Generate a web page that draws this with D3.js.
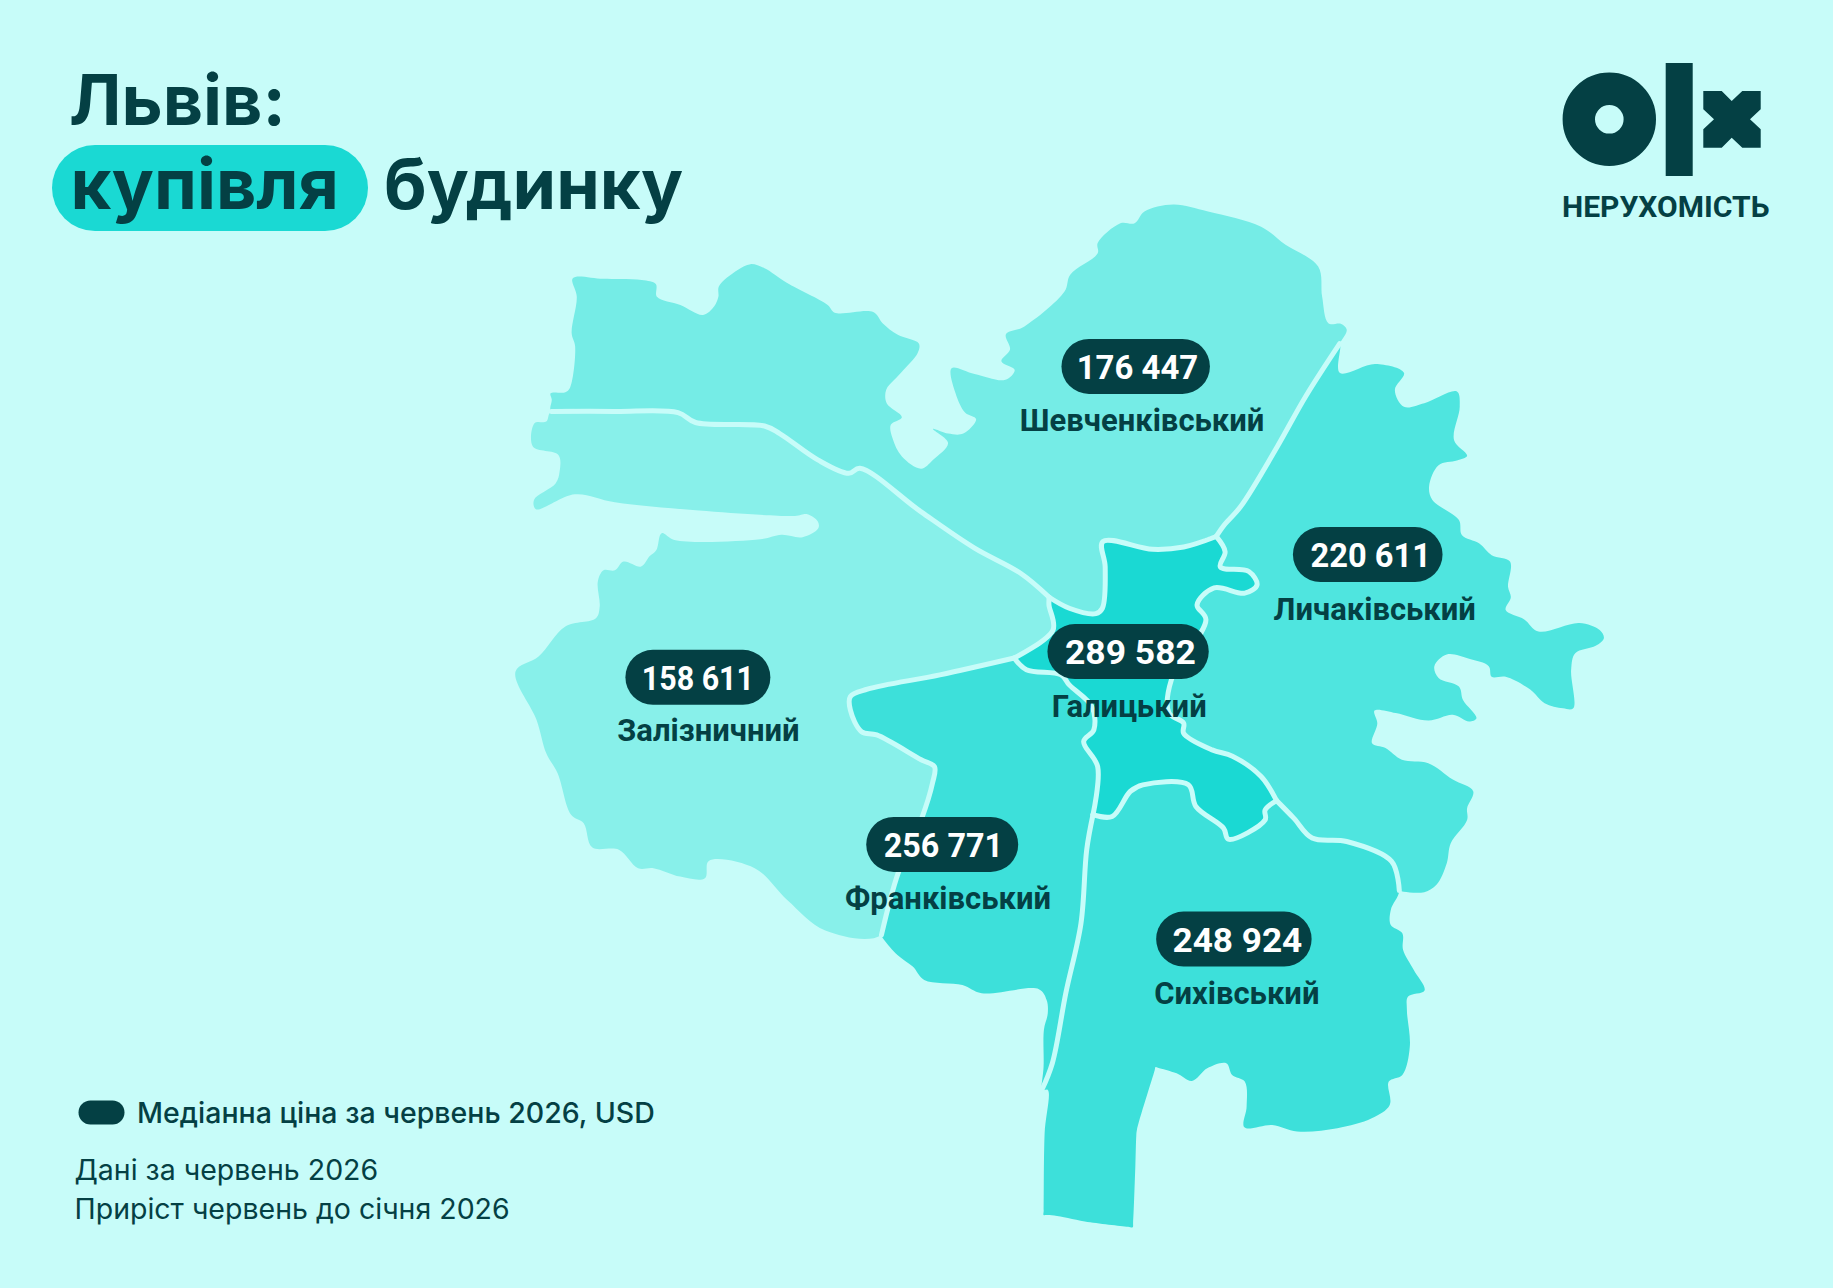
<!DOCTYPE html>
<html lang="uk">
<head>
<meta charset="utf-8">
<title>Львів: купівля будинку</title>
<script src="https://cdn.jsdelivr.net/npm/d3@7"></script>
<style>
  html, body { margin: 0; padding: 0; background: #c7fcf9; }
  svg { display: block; font-family: Roboto, sans-serif; }
</style>
</head>
<body>
<div id="map"></div>
<script>
// districts and median price, USD
const districts = ["Шевченківський", "Личаківський", "Галицький", "Залізничний", "Франківський", "Сихівський"];
const prices = [176447, 220611, 289582, 158611, 256771, 248924];
const priceLabels = ["176 447", "220 611", "289 582", "158 611", "256 771", "248 924"];

// where each label sits, in map units
const pillCentres = [[971.5, 313.5], [1170, 474.5], [965, 557.5], [597, 579.5], [806, 722.5], [1055.5, 803.5]];
const pillWidths = [127, 128, 138, 124, 130, 133];
const priceCentres = [[973, 314], [1172.5, 475], [967, 558], [597, 580], [807, 723], [1058.5, 804]];
const priceWidths = [104, 103, 112, 96, 102, 111];
const nameCentres = [[977, 359], [1176, 521], [966, 604], [606, 625], [811, 768], [1058, 850]];

// shared borders between districts, in map units
const bZalShev = [[471.5,352],[526,352],[580,353],[595,361.5],[654,364.5],[667,371],[699.6,393.5],[726,405],[735.6,400.6],[788,438],[833.7,469],[873,490.5],[897.5,511]];
const bShevGal = [[897.5,511],[914.7,520.4],[937.4,525],[943,520.4],[945.4,485],[943.4,463.4],[986,470],[1012.5,468],[1040.4,459]];
const bShevLych = [[1040.4,459],[1047.4,449],[1061.3,433.4],[1092.7,382],[1117,339],[1146,294]];
const bLychGal = [[1040.4,459],[1048,472],[1043.9,485],[1068.3,489],[1075.3,500.4],[1064.8,507.5],[1038.6,503],[1024,517.5],[1031.6,530.3],[1002,581.7],[1000,610],[1012.5,618.7],[1012.5,627.3],[1036.9,641.6],[1054.3,647],[1078.8,664.4],[1092,685]];
const bLychSykh = [[1092,685],[1106.7,700],[1122.4,717],[1152,720],[1190.4,737],[1197,762]];
const bGalSykh = [[1092,685],[1082.2,693],[1082.2,701.5],[1050.8,718],[1046.7,708.6],[1023,690],[1016.6,671.5],[977.6,671.5],[967,677],[951.4,698.6],[935,697]];
const bFrSykh = [[935,697],[929.6,727],[924.7,790],[911.7,849.8],[900.2,909.7],[891,933]];
const bGalFr = [[935,697],[939,656],[927,634.4],[935.7,624.5],[934,604.5],[914.7,586],[907.7,577.4],[878,573],[867.6,563]];
const bZalGal = [[897.5,511],[897.3,517.5],[900.8,539],[867.6,563]];
const bZalFr = [[867.6,563],[804,577.4],[742,589.7],[727.4,596],[727.4,607.4],[737,626],[750,628.8],[788,650],[799.4,655.9],[797.7,670],[788,701.5],[768.3,747],[754,800]];

// outer edges
const outerShev = [[472,342],[471,336.5],[483.6,335.6],[487.5,332],[492,296.5],[489,285],[493.4,254],[490,238],[516,238.6],[549,239.5],[561,243],[562,254],[582,261],[601.4,269.5],[611,262],[614.5,254],[615,245],[631,231],[642,226],[654,229.5],[673,242],[708,261],[714,267.5],[747,267],[755,276.5],[768,286.5],[786,294],[785,302],[771.5,318],[765,325],[758,333.6],[758.5,345],[771.5,357],[762,363.5],[763.5,375],[771.5,390.6],[788,401],[798,393.5],[811,379],[798,367],[811,371],[824,371],[835,358.7],[825.5,353],[817.4,336.5],[814,315],[833.7,320],[860,325],[868,316.5],[856.6,309],[864,299],[860.5,286],[876,279.5],[910.6,249.5],[915.5,235],[939,216.7],[939,208],[958.4,191],[970.6,191],[979,181],[1003.7,175],[1033.4,181],[1078.8,194],[1099.7,209.5],[1127.6,228],[1131,254],[1136.3,276.5],[1147,277],[1152,282]];
const outerLych = [[1146,319],[1176.5,311.4],[1201,319],[1193.2,333.6],[1201,348],[1218.4,345],[1246.3,335],[1248.7,348],[1243.8,376.4],[1255,390],[1246.3,394],[1230.6,398],[1222.5,416],[1225.3,427.7],[1248,445],[1250.5,457.7],[1265.5,465],[1276,475],[1291.7,480.5],[1290,502],[1292.4,511],[1288,522],[1303.9,530],[1316,540.3],[1351,533],[1368.4,539],[1372,546],[1365,552.6],[1347.5,559],[1344,573],[1345.8,606],[1337,606],[1321.3,601.6],[1309,590],[1288,579],[1276,579],[1273.5,570],[1256.7,563.7],[1237.6,560],[1227,570],[1230.6,580],[1248,587.4],[1251.5,599],[1263,614.5],[1256.7,617.3],[1242.8,611.6],[1222,616.5],[1194,610],[1175.8,608],[1178.2,619],[1173.7,636],[1185.2,640],[1199.2,650],[1221.8,653],[1242.8,667],[1260.2,677],[1255,691.5],[1255,701.5],[1241,721.4],[1237.6,738.5],[1228.8,757],[1218.4,763.3],[1200.9,763]];
const outerSykh = [[1189.7,778.5],[1189.7,791.4],[1199.6,798.5],[1200.2,812.7],[1209.4,830],[1218.6,847.5],[1204.5,852.7],[1203.5,864],[1206,895.4],[1199.6,919.7],[1188,925.4],[1188.8,945.4],[1173.4,956.8],[1144,965.3],[1109.6,968],[1088.3,962.5],[1064.5,964.5],[1066.4,946.8],[1064.8,925.4],[1054,919.7],[1049,909.7],[1032.7,914],[1019.6,924.8],[1006.5,918.3],[990.5,913.5],[988.5,913],[987.7,916],[972.5,967],[972,972],[971.2,998],[969.3,1046],[968.9,1050],[965,1049.6],[928,1045],[901.8,1040],[895,1039.6],[892.7,1039.5],[892.8,1036],[893.6,969.6],[896.3,932.5]];
const outerFr = [[892.7,912.6],[893,881],[896.3,867],[895.3,855.5],[888.7,846.4],[839.7,849.8],[823.3,842.7],[790.6,838.4],[780.8,827],[767.7,817],[756.2,804]];
const outerZal = [[706,796.2],[673.4,770],[645.6,742.8],[606.3,736.6],[603,751.4],[581.8,750],[558.9,742.8],[545.8,742.8],[529.4,727],[506.5,725],[499.3,704.3],[488.5,697],[477,661.6],[467.3,644.5],[459,616],[441,574.6],[460.7,561.7],[483.6,536],[509.8,529],[513,519],[511.4,497.6],[516.3,488],[526,488],[533.4,480.5],[548.4,484.7],[555.6,476],[561.5,470.5],[566,456.2],[576.9,462],[650.5,461.4],[668.5,457.6],[686.5,459.6],[700,452],[699.6,446.2],[690.7,440],[680,441.4],[598,436.8],[526,429.7],[491.8,422.9],[458.4,435.7],[456.8,427.7],[475.4,413.5],[478.7,403.5],[477.7,389.2],[455.8,382],[457.4,362],[467.3,360.7]];

const rev = a => a.slice().reverse();
const ring = (...parts) => d3.merge(parts).filter((p, i, a) => i === 0 || p[0] !== a[i - 1][0] || p[1] !== a[i - 1][1]);

// same order as districts
const outlines = [
  ring(outerShev, rev(bShevLych), rev(bShevGal), rev(bZalShev)),
  ring(outerLych, rev(bLychSykh), rev(bLychGal), bShevLych),
  ring(bShevGal, bLychGal, bGalSykh, bGalFr, rev(bZalGal)),
  ring(bZalShev, bZalGal, bZalFr, outerZal),
  ring(rev(bGalFr), bFrSykh, outerFr, rev(bZalFr)),
  ring(rev(bGalSykh), bLychSykh, outerSykh, rev(bFrSykh))
];
const borders = [bZalShev, bShevGal, bShevLych, bLychGal, bLychSykh, bGalSykh, bFrSykh, bGalFr, bZalGal, bZalFr];

const width = 1833, height = 1288;
const background = "#c7fcf9", dark = "#044044";

const svg = d3.select("#map").append("svg")
  .attr("width", width)
  .attr("height", height)
  .attr("viewBox", [0, 0, width, height]);

svg.append("rect").attr("width", width).attr("height", height).attr("fill", background);

const x = d3.scaleLinear().domain([0, 1568]).range([0, width]);
const y = d3.scaleLinear().domain([0, 1102]).range([0, height]);

// darker district = higher price
const color = d3.scaleThreshold()
  .domain([170000, 200000, 240000, 280000])
  .range(["#88f0ea", "#75ece6", "#4fe5df", "#3de0da", "#1ad9d3"]);

const closed = d3.line().x(d => x(d[0])).y(d => y(d[1])).curve(d3.curveCatmullRomClosed.alpha(0.5));
const open = d3.line().x(d => x(d[0])).y(d => y(d[1])).curve(d3.curveCatmullRom.alpha(0.5));

svg.append("g").selectAll("path")
  .data(districts)
  .join("path")
    .attr("d", (d, i) => closed(outlines[i]))
    .attr("fill", (d, i) => color(prices[i]));

svg.append("g").selectAll("path")
  .data(borders)
  .join("path")
    .attr("d", d => open(d))
    .attr("fill", "none")
    .attr("stroke", background)
    .attr("stroke-width", 5)
    .attr("stroke-linecap", "round")
    .attr("stroke-linejoin", "round");

// price pills
svg.append("g").selectAll("rect")
  .data(districts)
  .join("rect")
    .attr("x", (d, i) => x(pillCentres[i][0] - pillWidths[i] / 2))
    .attr("y", (d, i) => y(pillCentres[i][1]) - 27.5)
    .attr("width", (d, i) => x(pillWidths[i]))
    .attr("height", 55)
    .attr("rx", 27.5)
    .attr("fill", dark);

svg.append("g").selectAll("text")
  .data(districts)
  .join("text")
    .attr("x", (d, i) => x(priceCentres[i][0]))
    .attr("y", (d, i) => y(priceCentres[i][1]) + 12)
    .attr("text-anchor", "middle")
    .attr("font-size", 34)
    .attr("font-weight", 700)
    .attr("fill", "#ffffff")
    .attr("textLength", (d, i) => x(priceWidths[i]))
    .attr("lengthAdjust", "spacingAndGlyphs")
    .text((d, i) => priceLabels[i]);

svg.append("g").selectAll("text")
  .data(districts)
  .join("text")
    .attr("x", (d, i) => x(nameCentres[i][0]))
    .attr("y", (d, i) => y(nameCentres[i][1]) + 11)
    .attr("text-anchor", "middle")
    .attr("font-size", 31)
    .attr("font-weight", 700)
    .attr("fill", dark)
    .text(d => d);

// title
svg.append("rect")
  .attr("x", 52).attr("y", 145).attr("width", 316).attr("height", 86)
  .attr("rx", 43).attr("fill", "#1ad9d3");
const title = svg.append("g").attr("fill", dark).attr("font-weight", 700).attr("font-size", 70)
  .style("font-family", "Inter, sans-serif");
title.append("text").attr("x", 69).attr("y", 125).text("Львів:");
title.append("text").attr("x", 70.5).attr("y", 209).text("купівля");
title.append("text").attr("x", 384).attr("y", 209).text("будинку");

// logo
const logo = svg.append("g").attr("fill", dark);
logo.append("circle")
  .attr("cx", 1609.3).attr("cy", 119.3).attr("r", 30.5)
  .attr("fill", "none").attr("stroke", dark).attr("stroke-width", 32.4);
logo.append("rect").attr("x", 1665.7).attr("y", 63).attr("width", 27).attr("height", 113);
logo.append("path").attr("d", "M1703.3 91H1721.7L1731.7 101L1742.3 91H1760.7V109.3L1750 119.3L1760.7 129.3V147.7H1742.3L1731.7 137.7L1721.7 147.7H1703.3V129.3L1714 119.3L1703.3 109.3Z");
logo.append("text")
  .attr("x", 1562).attr("y", 217)
  .attr("font-size", 30).attr("font-weight", 700)
  .text("НЕРУХОМІСТЬ");

// legend and notes
const legend = svg.append("g").attr("fill", dark).attr("font-size", 28.5)
  .style("font-family", "Inter, sans-serif");
legend.append("rect")
  .attr("x", 78.5).attr("y", 1100.5).attr("width", 46).attr("height", 24)
  .attr("rx", 12);
legend.append("text").attr("x", 137).attr("y", 1122.5).attr("font-weight", 500).text("Медіанна ціна за червень 2026, USD");
legend.append("text").attr("x", 74.5).attr("y", 1180).text("Дані за червень 2026");
legend.append("text").attr("x", 74.5).attr("y", 1219).text("Приріст червень до січня 2026");
</script>
</body>
</html>
